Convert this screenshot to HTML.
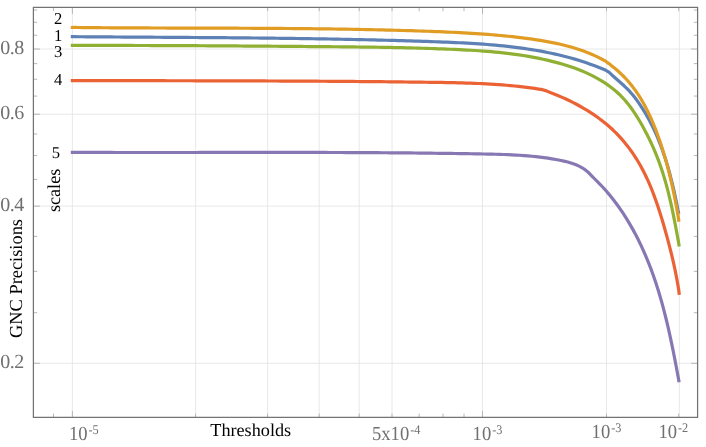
<!DOCTYPE html>
<html><head><meta charset="utf-8"><title>chart</title>
<style>html,body{margin:0;padding:0;background:#fff;overflow:hidden}body{width:706px;height:447px;position:relative;font-family:"Liberation Serif",serif}</style>
</head><body>
<svg width="706" height="447" viewBox="0 0 706 447" style="position:absolute;left:0;top:0">
<rect x="0" y="0" width="706" height="447" fill="#fff"/>
<line x1="72.40" y1="7.4" x2="72.40" y2="417.4" stroke="#e2e2e2" stroke-width="0.8"/>
<line x1="195.60" y1="7.4" x2="195.60" y2="417.4" stroke="#e2e2e2" stroke-width="0.8"/>
<line x1="267.60" y1="7.4" x2="267.60" y2="417.4" stroke="#e2e2e2" stroke-width="0.8"/>
<line x1="319.20" y1="7.4" x2="319.20" y2="417.4" stroke="#e2e2e2" stroke-width="0.8"/>
<line x1="359.20" y1="7.4" x2="359.20" y2="417.4" stroke="#e2e2e2" stroke-width="0.8"/>
<line x1="392.00" y1="7.4" x2="392.00" y2="417.4" stroke="#e2e2e2" stroke-width="0.8"/>
<line x1="482.50" y1="7.4" x2="482.50" y2="417.4" stroke="#e2e2e2" stroke-width="0.8"/>
<line x1="606.50" y1="7.4" x2="606.50" y2="417.4" stroke="#e2e2e2" stroke-width="0.8"/>
<line x1="679.40" y1="7.4" x2="679.40" y2="417.4" stroke="#e2e2e2" stroke-width="0.8"/>
<line x1="33.4" y1="49.00" x2="697.6" y2="49.00" stroke="#e2e2e2" stroke-width="0.8"/>
<line x1="33.4" y1="114.22" x2="697.6" y2="114.22" stroke="#e2e2e2" stroke-width="0.8"/>
<line x1="33.4" y1="206.14" x2="697.6" y2="206.14" stroke="#e2e2e2" stroke-width="0.8"/>
<line x1="33.4" y1="363.27" x2="697.6" y2="363.27" stroke="#e2e2e2" stroke-width="0.8"/>
<line x1="53.50" y1="417.4" x2="53.50" y2="413.59999999999997" stroke="#b0b0b0" stroke-width="0.9"/>
<line x1="53.50" y1="7.4" x2="53.50" y2="11.2" stroke="#b0b0b0" stroke-width="0.9"/>
<line x1="72.40" y1="417.4" x2="72.40" y2="410.9" stroke="#b0b0b0" stroke-width="0.9"/>
<line x1="72.40" y1="7.4" x2="72.40" y2="13.9" stroke="#b0b0b0" stroke-width="0.9"/>
<line x1="195.60" y1="417.4" x2="195.60" y2="413.59999999999997" stroke="#b0b0b0" stroke-width="0.9"/>
<line x1="195.60" y1="7.4" x2="195.60" y2="11.2" stroke="#b0b0b0" stroke-width="0.9"/>
<line x1="267.60" y1="417.4" x2="267.60" y2="413.59999999999997" stroke="#b0b0b0" stroke-width="0.9"/>
<line x1="267.60" y1="7.4" x2="267.60" y2="11.2" stroke="#b0b0b0" stroke-width="0.9"/>
<line x1="319.20" y1="417.4" x2="319.20" y2="413.59999999999997" stroke="#b0b0b0" stroke-width="0.9"/>
<line x1="319.20" y1="7.4" x2="319.20" y2="11.2" stroke="#b0b0b0" stroke-width="0.9"/>
<line x1="359.20" y1="417.4" x2="359.20" y2="413.59999999999997" stroke="#b0b0b0" stroke-width="0.9"/>
<line x1="359.20" y1="7.4" x2="359.20" y2="11.2" stroke="#b0b0b0" stroke-width="0.9"/>
<line x1="392.00" y1="417.4" x2="392.00" y2="413.59999999999997" stroke="#b0b0b0" stroke-width="0.9"/>
<line x1="392.00" y1="7.4" x2="392.00" y2="11.2" stroke="#b0b0b0" stroke-width="0.9"/>
<line x1="419.20" y1="417.4" x2="419.20" y2="413.59999999999997" stroke="#b0b0b0" stroke-width="0.9"/>
<line x1="419.20" y1="7.4" x2="419.20" y2="11.2" stroke="#b0b0b0" stroke-width="0.9"/>
<line x1="443.00" y1="417.4" x2="443.00" y2="413.59999999999997" stroke="#b0b0b0" stroke-width="0.9"/>
<line x1="443.00" y1="7.4" x2="443.00" y2="11.2" stroke="#b0b0b0" stroke-width="0.9"/>
<line x1="464.00" y1="417.4" x2="464.00" y2="413.59999999999997" stroke="#b0b0b0" stroke-width="0.9"/>
<line x1="464.00" y1="7.4" x2="464.00" y2="11.2" stroke="#b0b0b0" stroke-width="0.9"/>
<line x1="482.50" y1="417.4" x2="482.50" y2="410.9" stroke="#b0b0b0" stroke-width="0.9"/>
<line x1="482.50" y1="7.4" x2="482.50" y2="13.9" stroke="#b0b0b0" stroke-width="0.9"/>
<line x1="606.50" y1="417.4" x2="606.50" y2="413.59999999999997" stroke="#b0b0b0" stroke-width="0.9"/>
<line x1="606.50" y1="7.4" x2="606.50" y2="11.2" stroke="#b0b0b0" stroke-width="0.9"/>
<line x1="678.70" y1="417.4" x2="678.70" y2="413.59999999999997" stroke="#b0b0b0" stroke-width="0.9"/>
<line x1="678.70" y1="7.4" x2="678.70" y2="11.2" stroke="#b0b0b0" stroke-width="0.9"/>
<line x1="33.4" y1="363.27" x2="39.9" y2="363.27" stroke="#b0b0b0" stroke-width="0.9"/>
<line x1="697.6" y1="363.27" x2="691.1" y2="363.27" stroke="#b0b0b0" stroke-width="0.9"/>
<line x1="33.4" y1="312.69" x2="37.199999999999996" y2="312.69" stroke="#b0b0b0" stroke-width="0.9"/>
<line x1="697.6" y1="312.69" x2="693.8000000000001" y2="312.69" stroke="#b0b0b0" stroke-width="0.9"/>
<line x1="33.4" y1="271.35" x2="37.199999999999996" y2="271.35" stroke="#b0b0b0" stroke-width="0.9"/>
<line x1="697.6" y1="271.35" x2="693.8000000000001" y2="271.35" stroke="#b0b0b0" stroke-width="0.9"/>
<line x1="33.4" y1="236.41" x2="37.199999999999996" y2="236.41" stroke="#b0b0b0" stroke-width="0.9"/>
<line x1="697.6" y1="236.41" x2="693.8000000000001" y2="236.41" stroke="#b0b0b0" stroke-width="0.9"/>
<line x1="33.4" y1="206.14" x2="39.9" y2="206.14" stroke="#b0b0b0" stroke-width="0.9"/>
<line x1="697.6" y1="206.14" x2="691.1" y2="206.14" stroke="#b0b0b0" stroke-width="0.9"/>
<line x1="33.4" y1="179.44" x2="37.199999999999996" y2="179.44" stroke="#b0b0b0" stroke-width="0.9"/>
<line x1="697.6" y1="179.44" x2="693.8000000000001" y2="179.44" stroke="#b0b0b0" stroke-width="0.9"/>
<line x1="33.4" y1="155.55" x2="37.199999999999996" y2="155.55" stroke="#b0b0b0" stroke-width="0.9"/>
<line x1="697.6" y1="155.55" x2="693.8000000000001" y2="155.55" stroke="#b0b0b0" stroke-width="0.9"/>
<line x1="33.4" y1="133.94" x2="37.199999999999996" y2="133.94" stroke="#b0b0b0" stroke-width="0.9"/>
<line x1="697.6" y1="133.94" x2="693.8000000000001" y2="133.94" stroke="#b0b0b0" stroke-width="0.9"/>
<line x1="33.4" y1="114.22" x2="39.9" y2="114.22" stroke="#b0b0b0" stroke-width="0.9"/>
<line x1="697.6" y1="114.22" x2="691.1" y2="114.22" stroke="#b0b0b0" stroke-width="0.9"/>
<line x1="33.4" y1="96.07" x2="37.199999999999996" y2="96.07" stroke="#b0b0b0" stroke-width="0.9"/>
<line x1="697.6" y1="96.07" x2="693.8000000000001" y2="96.07" stroke="#b0b0b0" stroke-width="0.9"/>
<line x1="33.4" y1="79.27" x2="37.199999999999996" y2="79.27" stroke="#b0b0b0" stroke-width="0.9"/>
<line x1="697.6" y1="79.27" x2="693.8000000000001" y2="79.27" stroke="#b0b0b0" stroke-width="0.9"/>
<line x1="33.4" y1="63.63" x2="37.199999999999996" y2="63.63" stroke="#b0b0b0" stroke-width="0.9"/>
<line x1="697.6" y1="63.63" x2="693.8000000000001" y2="63.63" stroke="#b0b0b0" stroke-width="0.9"/>
<line x1="33.4" y1="49.00" x2="39.9" y2="49.00" stroke="#b0b0b0" stroke-width="0.9"/>
<line x1="697.6" y1="49.00" x2="691.1" y2="49.00" stroke="#b0b0b0" stroke-width="0.9"/>
<line x1="33.4" y1="35.26" x2="37.199999999999996" y2="35.26" stroke="#b0b0b0" stroke-width="0.9"/>
<line x1="697.6" y1="35.26" x2="693.8000000000001" y2="35.26" stroke="#b0b0b0" stroke-width="0.9"/>
<line x1="33.4" y1="22.30" x2="37.199999999999996" y2="22.30" stroke="#b0b0b0" stroke-width="0.9"/>
<line x1="697.6" y1="22.30" x2="693.8000000000001" y2="22.30" stroke="#b0b0b0" stroke-width="0.9"/>
<line x1="33.4" y1="10.04" x2="37.199999999999996" y2="10.04" stroke="#b0b0b0" stroke-width="0.9"/>
<line x1="697.6" y1="10.04" x2="693.8000000000001" y2="10.04" stroke="#b0b0b0" stroke-width="0.9"/>
<polyline points="70.80,36.70 74.82,36.70 78.88,36.73 82.93,36.76 86.98,36.79 91.03,36.82 95.08,36.85 99.13,36.88 103.18,36.91 107.23,36.93 111.28,36.96 115.33,36.99 119.38,37.01 123.43,37.04 127.48,37.07 131.52,37.09 135.57,37.12 139.62,37.14 143.66,37.17 147.71,37.19 151.76,37.22 155.80,37.24 159.85,37.27 163.89,37.29 167.93,37.32 171.98,37.34 176.02,37.37 180.07,37.40 184.11,37.42 188.15,37.45 192.20,37.48 196.24,37.50 200.28,37.53 204.32,37.56 208.37,37.59 212.41,37.62 216.45,37.65 220.49,37.69 224.54,37.72 228.58,37.75 232.62,37.79 236.66,37.82 240.70,37.86 244.74,37.90 248.79,37.94 252.83,37.98 256.87,38.02 260.91,38.06 264.95,38.10 268.99,38.15 273.03,38.20 277.08,38.24 281.12,38.29 285.16,38.34 289.20,38.40 293.24,38.45 297.29,38.51 301.33,38.56 305.37,38.62 309.41,38.68 313.46,38.75 317.50,38.81 321.54,38.88 325.58,38.95 329.63,39.02 333.67,39.09 337.71,39.17 341.76,39.24 345.80,39.32 349.85,39.41 353.89,39.49 357.94,39.58 361.98,39.66 366.03,39.76 370.07,39.85 374.12,39.95 378.17,40.05 382.21,40.15 386.26,40.25 390.31,40.36 394.36,40.47 398.40,40.58 402.45,40.70 406.50,40.81 410.55,40.94 414.60,41.06 418.65,41.19 422.70,41.32 426.75,41.45 430.81,41.59 434.86,41.73 438.91,41.88 442.96,42.03 447.02,42.19 451.07,42.36 455.12,42.54 459.17,42.73 463.21,42.93 467.26,43.15 471.30,43.38 475.34,43.63 479.38,43.90 483.42,44.19 487.45,44.50 491.48,44.83 495.51,45.18 499.53,45.56 503.55,45.96 507.56,46.39 511.57,46.85 515.58,47.34 519.58,47.85 523.57,48.40 527.56,48.99 531.54,49.61 535.52,50.26 539.49,50.95 543.45,51.69 547.40,52.46 551.35,53.28 555.28,54.14 559.21,55.04 563.13,56.00 567.03,57.00 570.93,58.05 574.81,59.16 578.68,60.32 582.54,61.54 586.39,62.81 590.22,64.14 594.04,65.54 597.84,67.00 601.63,68.52 605.40,70.10 608.90,72.10 611.89,74.96 614.99,77.73 618.12,80.47 621.25,83.23 624.32,86.04 627.30,88.93 630.15,91.94 632.84,95.07 635.41,98.32 637.86,101.65 640.22,105.06 642.49,108.53 644.68,112.05 646.78,115.63 648.80,119.26 650.74,122.94 652.59,126.65 654.38,130.39 656.08,134.17 657.72,137.97 659.28,141.80 660.78,145.66 662.22,149.54 663.59,153.45 664.91,157.38 666.17,161.33 667.37,165.30 668.53,169.28 669.64,173.28 670.70,177.30 671.72,181.33 672.70,185.36 673.64,189.41 674.55,193.47 675.43,197.54 676.28,201.61 677.10,205.68 677.89,209.75 678.80,213.80" fill="none" stroke="#5e81b5" stroke-width="3.2" stroke-linejoin="round" stroke-linecap="butt"/>
<polyline points="70.80,27.50 74.84,27.47 78.90,27.52 82.95,27.56 87.01,27.60 91.06,27.63 95.11,27.67 99.17,27.70 103.22,27.73 107.28,27.76 111.33,27.79 115.38,27.81 119.44,27.84 123.49,27.86 127.54,27.88 131.60,27.90 135.65,27.92 139.70,27.94 143.76,27.95 147.81,27.97 151.86,27.98 155.91,28.00 159.97,28.01 164.02,28.02 168.07,28.04 172.12,28.05 176.17,28.06 180.23,28.07 184.28,28.08 188.33,28.09 192.38,28.10 196.43,28.11 200.48,28.12 204.53,28.13 208.59,28.14 212.64,28.15 216.69,28.16 220.74,28.17 224.79,28.18 228.84,28.20 232.89,28.21 236.94,28.22 240.99,28.24 245.04,28.26 249.09,28.27 253.14,28.29 257.20,28.31 261.25,28.33 265.30,28.35 269.35,28.38 273.40,28.40 277.45,28.43 281.50,28.45 285.55,28.48 289.60,28.52 293.65,28.55 297.70,28.59 301.75,28.62 305.80,28.66 309.85,28.71 313.90,28.75 317.95,28.80 322.00,28.85 326.05,28.90 330.10,28.95 334.16,29.01 338.21,29.07 342.26,29.13 346.31,29.20 350.36,29.27 354.41,29.34 358.46,29.41 362.51,29.49 366.56,29.57 370.61,29.66 374.67,29.75 378.72,29.84 382.77,29.94 386.82,30.04 390.87,30.14 394.92,30.25 398.97,30.36 403.03,30.48 407.08,30.60 411.13,30.72 415.18,30.85 419.23,30.98 423.29,31.12 427.34,31.26 431.39,31.41 435.44,31.56 439.50,31.72 443.55,31.88 447.60,32.06 451.65,32.24 455.70,32.43 459.75,32.64 463.80,32.85 467.85,33.08 471.90,33.32 475.95,33.58 479.99,33.85 484.04,34.14 488.08,34.44 492.12,34.76 496.16,35.11 500.19,35.47 504.23,35.85 508.26,36.26 512.29,36.69 516.32,37.14 520.34,37.62 524.37,38.13 528.39,38.66 532.40,39.21 536.42,39.80 540.42,40.43 544.42,41.09 548.41,41.80 552.38,42.57 556.35,43.38 560.29,44.26 564.22,45.20 568.12,46.21 572.00,47.29 575.86,48.46 579.69,49.71 583.50,51.04 587.27,52.47 591.01,54.00 594.71,55.63 598.37,57.38 602.00,59.23 605.59,61.20 608.90,63.60 612.11,66.17 615.38,68.78 618.54,71.50 621.57,74.32 624.48,77.25 627.27,80.28 629.95,83.39 632.52,86.60 634.97,89.89 637.32,93.25 639.56,96.69 641.70,100.19 643.74,103.75 645.69,107.37 647.56,111.04 649.34,114.75 651.05,118.50 652.69,122.29 654.27,126.11 655.78,129.95 657.25,133.81 658.66,137.69 660.02,141.59 661.33,145.50 662.59,149.43 663.81,153.38 664.98,157.34 666.12,161.31 667.21,165.30 668.26,169.29 669.27,173.30 670.25,177.31 671.19,181.33 672.10,185.36 672.98,189.39 673.83,193.43 674.65,197.47 675.44,201.51 676.21,205.55 676.96,209.60 677.69,213.64 678.39,217.68 678.90,221.80" fill="none" stroke="#e19c24" stroke-width="3.2" stroke-linejoin="round" stroke-linecap="butt"/>
<polyline points="70.80,45.40 74.84,45.43 78.89,45.42 82.93,45.42 86.98,45.42 91.03,45.42 95.08,45.42 99.12,45.42 103.17,45.42 107.21,45.43 111.26,45.43 115.30,45.44 119.35,45.44 123.39,45.45 127.44,45.46 131.48,45.47 135.53,45.48 139.57,45.49 143.61,45.50 147.66,45.51 151.70,45.53 155.74,45.54 159.78,45.56 163.83,45.57 167.87,45.59 171.91,45.60 175.95,45.62 180.00,45.64 184.04,45.66 188.08,45.68 192.12,45.70 196.16,45.72 200.20,45.75 204.25,45.77 208.29,45.79 212.33,45.82 216.37,45.84 220.41,45.86 224.45,45.89 228.49,45.92 232.54,45.94 236.58,45.97 240.62,46.00 244.66,46.03 248.70,46.06 252.75,46.08 256.79,46.11 260.83,46.14 264.87,46.17 268.92,46.20 272.96,46.24 277.00,46.27 281.04,46.30 285.09,46.33 289.13,46.36 293.18,46.40 297.22,46.43 301.26,46.46 305.31,46.50 309.35,46.53 313.40,46.56 317.44,46.60 321.49,46.63 325.54,46.67 329.58,46.70 333.63,46.74 337.68,46.77 341.72,46.81 345.77,46.85 349.82,46.89 353.87,46.94 357.91,46.98 361.96,47.03 366.01,47.08 370.06,47.14 374.10,47.20 378.15,47.26 382.20,47.32 386.24,47.39 390.29,47.47 394.33,47.54 398.38,47.63 402.42,47.71 406.47,47.81 410.51,47.91 414.55,48.01 418.60,48.12 422.64,48.24 426.68,48.36 430.72,48.50 434.76,48.63 438.80,48.78 442.84,48.93 446.87,49.09 450.91,49.26 454.95,49.44 458.98,49.63 463.01,49.82 467.04,50.03 471.07,50.26 475.10,50.50 479.13,50.77 483.15,51.05 487.17,51.36 491.19,51.69 495.21,52.05 499.22,52.44 503.23,52.86 507.24,53.31 511.24,53.80 515.24,54.32 519.24,54.89 523.23,55.50 527.21,56.15 531.19,56.84 535.17,57.58 539.14,58.38 543.11,59.22 547.07,60.12 551.03,61.07 554.98,62.08 558.92,63.15 562.86,64.28 566.77,65.48 570.66,66.76 574.52,68.11 578.35,69.54 582.14,71.05 585.88,72.65 589.57,74.35 593.20,76.14 596.77,78.04 600.27,80.04 603.70,82.15 607.04,84.38 610.29,86.72 613.45,89.19 616.51,91.78 619.45,94.49 622.27,97.33 624.96,100.30 627.55,103.37 630.03,106.54 632.41,109.80 634.70,113.14 636.90,116.54 639.02,120.01 641.08,123.52 643.07,127.07 645.00,130.65 646.88,134.26 648.70,137.88 650.46,141.53 652.16,145.20 653.80,148.89 655.39,152.61 656.90,156.35 658.36,160.11 659.75,163.90 661.08,167.71 662.35,171.53 663.56,175.38 664.72,179.24 665.84,183.13 666.90,187.02 667.92,190.93 668.90,194.85 669.84,198.79 670.75,202.73 671.63,206.68 672.47,210.64 673.29,214.60 674.09,218.57 674.87,222.55 675.63,226.52 676.38,230.50 677.12,234.47 677.85,238.44 678.57,242.41 679.20,246.40" fill="none" stroke="#8fb032" stroke-width="3.2" stroke-linejoin="round" stroke-linecap="butt"/>
<polyline points="70.80,80.60 74.83,80.57 78.87,80.58 82.91,80.58 86.95,80.59 90.98,80.60 95.02,80.61 99.06,80.62 103.09,80.62 107.13,80.63 111.17,80.64 115.20,80.64 119.24,80.65 123.28,80.66 127.31,80.66 131.35,80.67 135.38,80.68 139.42,80.68 143.46,80.69 147.49,80.69 151.53,80.70 155.56,80.71 159.60,80.71 163.64,80.72 167.67,80.73 171.71,80.73 175.74,80.74 179.78,80.75 183.82,80.75 187.85,80.76 191.89,80.77 195.92,80.78 199.96,80.78 203.99,80.79 208.03,80.80 212.07,80.81 216.10,80.82 220.14,80.83 224.17,80.84 228.21,80.85 232.24,80.86 236.28,80.87 240.31,80.88 244.35,80.89 248.39,80.91 252.42,80.92 256.46,80.93 260.49,80.95 264.53,80.96 268.56,80.98 272.60,80.99 276.64,81.01 280.67,81.03 284.71,81.04 288.74,81.06 292.78,81.08 296.81,81.10 300.85,81.12 304.89,81.14 308.92,81.17 312.96,81.19 316.99,81.21 321.03,81.24 325.07,81.26 329.10,81.29 333.14,81.32 337.18,81.34 341.21,81.37 345.25,81.40 349.28,81.44 353.32,81.47 357.36,81.50 361.39,81.53 365.43,81.57 369.47,81.61 373.51,81.64 377.54,81.68 381.58,81.72 385.62,81.76 389.65,81.80 393.69,81.85 397.73,81.89 401.77,81.94 405.80,81.98 409.84,82.03 413.88,82.08 417.92,82.13 421.95,82.18 425.99,82.24 430.03,82.29 434.07,82.35 438.11,82.41 442.14,82.47 446.18,82.54 450.22,82.62 454.26,82.71 458.29,82.81 462.33,82.91 466.36,83.04 470.39,83.17 474.42,83.32 478.45,83.49 482.48,83.68 486.51,83.89 490.53,84.12 494.56,84.37 498.58,84.65 502.59,84.95 506.61,85.28 510.62,85.63 514.63,86.02 518.64,86.44 522.65,86.89 526.65,87.38 530.65,87.90 534.64,88.45 538.63,89.05 542.62,89.68 546.50,90.90 550.23,92.58 554.04,94.03 557.83,95.55 561.61,97.15 565.37,98.82 569.10,100.56 572.80,102.37 576.47,104.26 580.09,106.23 583.68,108.28 587.22,110.40 590.70,112.60 594.13,114.88 597.50,117.24 600.81,119.69 604.04,122.21 607.20,124.82 610.29,127.51 613.29,130.29 616.20,133.16 619.03,136.10 621.77,139.13 624.42,142.23 626.99,145.41 629.46,148.65 631.85,151.96 634.16,155.33 636.37,158.76 638.50,162.25 640.53,165.79 642.48,169.38 644.36,173.01 646.15,176.68 647.87,180.40 649.52,184.15 651.10,187.94 652.63,191.76 654.09,195.60 655.50,199.47 656.87,203.36 658.18,207.27 659.46,211.20 660.70,215.13 661.90,219.08 663.08,223.03 664.23,226.99 665.36,230.94 666.46,234.90 667.54,238.86 668.60,242.82 669.63,246.78 670.63,250.74 671.60,254.72 672.55,258.69 673.46,262.67 674.34,266.66 675.18,270.66 675.99,274.66 676.76,278.67 677.50,282.70 678.19,286.73 678.85,290.77 679.30,294.90" fill="none" stroke="#eb6235" stroke-width="3.2" stroke-linejoin="round" stroke-linecap="butt"/>
<polyline points="70.80,152.40 74.83,152.37 78.88,152.38 82.93,152.40 86.98,152.41 91.03,152.42 95.07,152.44 99.12,152.45 103.17,152.46 107.22,152.46 111.26,152.47 115.31,152.48 119.36,152.48 123.40,152.49 127.45,152.49 131.50,152.50 135.54,152.50 139.59,152.50 143.64,152.50 147.68,152.50 151.73,152.50 155.77,152.50 159.82,152.50 163.86,152.50 167.91,152.50 171.96,152.50 176.00,152.49 180.05,152.49 184.09,152.49 188.13,152.48 192.18,152.48 196.22,152.48 200.27,152.47 204.31,152.47 208.36,152.46 212.40,152.46 216.45,152.45 220.49,152.45 224.53,152.45 228.58,152.44 232.62,152.44 236.67,152.43 240.71,152.43 244.75,152.43 248.80,152.43 252.84,152.42 256.89,152.42 260.93,152.42 264.97,152.42 269.02,152.42 273.06,152.42 277.10,152.42 281.15,152.42 285.19,152.42 289.24,152.42 293.28,152.42 297.32,152.43 301.37,152.43 305.41,152.43 309.46,152.44 313.50,152.45 317.54,152.45 321.59,152.46 325.63,152.47 329.68,152.48 333.72,152.49 337.77,152.51 341.81,152.52 345.85,152.54 349.90,152.55 353.94,152.57 357.99,152.59 362.03,152.61 366.08,152.63 370.12,152.65 374.17,152.67 378.21,152.70 382.26,152.73 386.31,152.76 390.35,152.79 394.40,152.82 398.44,152.85 402.49,152.89 406.54,152.92 410.58,152.96 414.63,153.00 418.68,153.04 422.72,153.09 426.77,153.13 430.82,153.18 434.86,153.23 438.91,153.28 442.96,153.34 447.01,153.39 451.06,153.45 455.11,153.51 459.15,153.57 463.20,153.64 467.25,153.70 471.30,153.77 475.35,153.84 479.40,153.92 483.45,153.99 487.50,154.07 491.55,154.16 495.60,154.25 499.65,154.37 503.69,154.50 507.74,154.65 511.78,154.82 515.82,155.03 519.85,155.27 523.88,155.54 527.91,155.86 531.93,156.22 535.95,156.62 539.96,157.08 543.96,157.59 547.96,158.16 551.95,158.80 555.93,159.50 559.91,160.26 563.87,161.11 567.80,162.06 571.68,163.18 575.46,164.51 579.11,166.11 582.61,168.04 585.93,170.34 589.02,173.06 591.90,176.10 594.76,179.00 597.68,181.86 600.53,184.77 603.32,187.75 606.03,190.78 608.68,193.87 611.27,197.01 613.78,200.21 616.23,203.45 618.62,206.74 620.95,210.07 623.21,213.45 625.41,216.86 627.56,220.32 629.64,223.81 631.67,227.33 633.65,230.88 635.57,234.47 637.44,238.09 639.25,241.73 641.01,245.41 642.72,249.10 644.39,252.82 646.00,256.57 647.56,260.33 649.08,264.12 650.55,267.92 651.98,271.74 653.36,275.57 654.70,279.42 655.99,283.28 657.25,287.15 658.46,291.03 659.64,294.93 660.78,298.83 661.89,302.75 662.96,306.67 664.00,310.60 665.01,314.54 666.00,318.49 666.95,322.45 667.89,326.41 668.79,330.38 669.68,334.35 670.54,338.33 671.39,342.32 672.22,346.30 673.03,350.30 673.83,354.29 674.61,358.29 675.39,362.29 676.15,366.29 676.91,370.29 677.66,374.29 678.40,378.29 679.10,382.30" fill="none" stroke="#8778b3" stroke-width="3.2" stroke-linejoin="round" stroke-linecap="butt"/>
<path d="M33.4 7.4 H697.6 V417.4 H33.4 Z" fill="none" stroke="#737373" stroke-width="1.25"/>
<g opacity="0.999">
<text x="0.2" y="53.7" font-family="Liberation Serif, serif" text-rendering="geometricPrecision" font-size="20" fill="#707070" text-anchor="start" letter-spacing="-0.45">0.8</text>
<text x="0.2" y="118.91752582481877" font-family="Liberation Serif, serif" text-rendering="geometricPrecision" font-size="20" fill="#707070" text-anchor="start" letter-spacing="-0.45">0.6</text>
<text x="0.2" y="210.83646583293958" font-family="Liberation Serif, serif" text-rendering="geometricPrecision" font-size="20" fill="#707070" text-anchor="start" letter-spacing="-0.45">0.4</text>
<text x="0.2" y="367.9729316658792" font-family="Liberation Serif, serif" text-rendering="geometricPrecision" font-size="20" fill="#707070" text-anchor="start" letter-spacing="-0.45">0.2</text>
<text transform="translate(68.9,440.1) scale(0.93,1)" font-family="Liberation Serif, serif" text-rendering="geometricPrecision" font-size="20" fill="#707070">10<tspan font-size="13.2" dy="-6.2" dx="1.0">-5</tspan></text>
<text transform="translate(372.0,440.2) scale(0.93,1)" font-family="Liberation Serif, serif" text-rendering="geometricPrecision" font-size="20" fill="#707070">5x10<tspan font-size="13.2" dy="-6.2" dx="1.0">-4</tspan></text>
<text transform="translate(472.6,439.9) scale(0.93,1)" font-family="Liberation Serif, serif" text-rendering="geometricPrecision" font-size="20" fill="#707070">10<tspan font-size="13.2" dy="-6.2" dx="1.0">-3</tspan></text>
<text transform="translate(591.6,438.0) scale(0.93,1)" font-family="Liberation Serif, serif" text-rendering="geometricPrecision" font-size="20" fill="#707070">10<tspan font-size="13.2" dy="-6.2" dx="1.0">-3</tspan></text>
<text transform="translate(658.5,438.0) scale(0.93,1)" font-family="Liberation Serif, serif" text-rendering="geometricPrecision" font-size="20" fill="#707070">10<tspan font-size="13.2" dy="-6.2" dx="1.0">-2</tspan></text>
<text x="250.7" y="436.4" font-family="Liberation Serif, serif" text-rendering="geometricPrecision" font-size="18.2" fill="#000" text-anchor="middle" >Thresholds</text>
<text transform="translate(21.8,278.5) rotate(-90)" font-family="Liberation Serif, serif" text-rendering="geometricPrecision" font-size="18.4" fill="#000" text-anchor="middle">GNC Precisions</text>
<text transform="translate(60.3,190.4) rotate(-90)" font-family="Liberation Serif, serif" text-rendering="geometricPrecision" font-size="18.2" fill="#000" text-anchor="middle">scales</text>
<text x="58.2" y="23.5" font-family="Liberation Serif, serif" text-rendering="geometricPrecision" font-size="16.6" fill="#000" text-anchor="middle" >2</text>
<text x="58.2" y="40.5" font-family="Liberation Serif, serif" text-rendering="geometricPrecision" font-size="16.6" fill="#000" text-anchor="middle" >1</text>
<text x="58.2" y="57.2" font-family="Liberation Serif, serif" text-rendering="geometricPrecision" font-size="16.6" fill="#000" text-anchor="middle" >3</text>
<text x="58.2" y="84.8" font-family="Liberation Serif, serif" text-rendering="geometricPrecision" font-size="16.6" fill="#000" text-anchor="middle" >4</text>
<text x="56.0" y="157.9" font-family="Liberation Serif, serif" text-rendering="geometricPrecision" font-size="16.6" fill="#000" text-anchor="middle" >5</text>
</g>
</svg>
</body></html>
